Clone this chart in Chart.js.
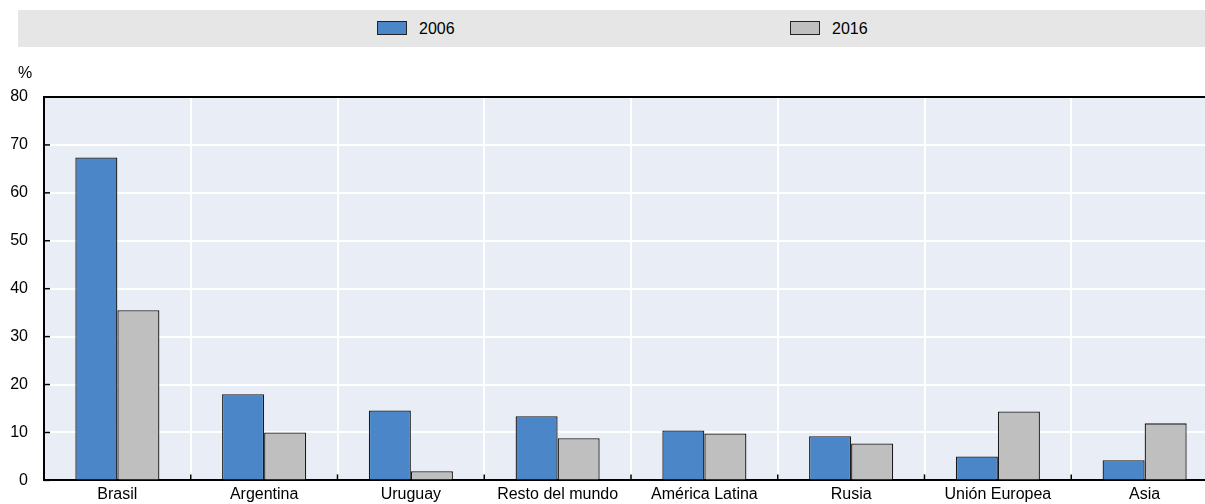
<!DOCTYPE html>
<html>
<head>
<meta charset="utf-8">
<script src="https://cdn.jsdelivr.net/npm/chart.js@4.4.1/dist/chart.umd.min.js"></script>
<style>
  body { margin: 0; background: #fff; font-family: "Liberation Sans", Arial, sans-serif; }
  #wrap { position: relative; width: 1205px; height: 504px; overflow: hidden; }
  #chart { display: block; }
  #legend { position: absolute; left: 18px; top: 10px; width: 1187px; height: 37px; background: #e6e6e6; }
  .item { position: absolute; top: 10px; font-size: 16px; color: #000; line-height: 17px; }
  .item span.box { display: inline-block; width: 28px; height: 12px; border: 1px solid #222; vertical-align: -1px; margin-right: 12px; }
  #unit { position: absolute; left: 18px; top: 64px; font-size: 16px; }
</style>
</head>
<body>
<div id="wrap">
  <div id="legend"></div>
  <div id="unit">%</div>
  <canvas id="chart" width="1218" height="506"></canvas>
</div>
<script>
const categories = ['Brasil', 'Argentina', 'Uruguay', 'Resto del mundo', 'América Latina', 'Rusia', 'Unión Europea', 'Asia'];
const values2006 = [67.4, 18.0, 14.6, 13.4, 10.4, 9.2, 5.0, 4.2];
const values2016 = [35.5, 10.0, 1.9, 8.8, 9.8, 7.7, 14.4, 11.9];
const seriesNames = ['2006', '2016'];
const yTicks = [0, 10, 20, 30, 40, 50, 60, 70, 80];

const fontFamily = '"Liberation Sans", Arial, sans-serif';

// plot frame: background, top border line and small inside tick marks
const framePlugin = {
    id: 'frame',
    beforeDraw(chart) {
        const { ctx, chartArea } = chart;
        ctx.save();
        ctx.fillStyle = '#e9edf6';
        ctx.fillRect(chartArea.left, chartArea.top, chartArea.right - chartArea.left, chartArea.bottom - chartArea.top);
        ctx.restore();
    },
    afterDraw(chart) {
        const { ctx, chartArea } = chart;
        const x = chart.scales.x;
        const y = chart.scales.y;
        ctx.save();
        ctx.strokeStyle = '#000';
        ctx.lineWidth = 2;
        ctx.beginPath();
        ctx.moveTo(chartArea.left, chartArea.top);
        ctx.lineTo(chartArea.right, chartArea.top);
        ctx.stroke();
        ctx.lineWidth = 1.5;
        const half = (x.getPixelForValue(1) - x.getPixelForValue(0)) / 2;
        for (let i = 1; i < categories.length; i++) {
            const px = x.getPixelForValue(i) - half;
            ctx.beginPath();
            ctx.moveTo(px, chartArea.bottom);
            ctx.lineTo(px, chartArea.bottom - 6);
            ctx.stroke();
        }
        yTicks.forEach(v => {
            const py = y.getPixelForValue(v);
            ctx.beginPath();
            ctx.moveTo(chartArea.left, py);
            ctx.lineTo(chartArea.left + 6, py);
            ctx.stroke();
        });
        ctx.restore();
    }
};

const colors = ['#4a86c8', '#bfbfbf'];

const chart = new Chart(document.getElementById('chart').getContext('2d'), {
    type: 'bar',
    data: {
        labels: categories,
        datasets: [
            { label: seriesNames[0], data: values2006, backgroundColor: colors[0], borderColor: '#1a1a1a', borderWidth: 1.3, borderSkipped: 'bottom' },
            { label: seriesNames[1], data: values2016, backgroundColor: colors[1], borderColor: '#1a1a1a', borderWidth: 1.3, borderSkipped: 'bottom' }
        ]
    },
    options: {
        responsive: false,
        animation: false,
        layout: { padding: { top: 97, right: 0, left: 0, bottom: 0 } },
        plugins: { legend: { display: false }, tooltip: { enabled: false } },
        datasets: { bar: { categoryPercentage: 0.573, barPercentage: 1 } },
        scales: {
            x: {
                grid: { offset: true, color: '#ffffff', lineWidth: 2, drawTicks: false },
                border: { color: '#000', width: 2 },
                ticks: { color: '#000', font: { family: fontFamily, size: 16 }, padding: 5, maxRotation: 0 },
                afterFit(scale) { scale.height = 22; }
            },
            y: {
                min: 0,
                max: 80,
                afterBuildTicks(scale) { scale.ticks = yTicks.map(v => ({ value: v })); },
                grid: { color: '#ffffff', lineWidth: 2, drawTicks: false },
                border: { color: '#000', width: 2 },
                ticks: { color: '#000', font: { family: fontFamily, size: 16 }, padding: 16 },
                afterFit(scale) { scale.width = 44; }
            }
        }
    },
    plugins: [framePlugin]
});

// legend built from the chart datasets
const legend = document.getElementById('legend');
const legendX = [359, 772];
chart.data.datasets.forEach((ds, i) => {
    const item = document.createElement('div');
    item.className = 'item';
    item.style.left = legendX[i] + 'px';
    item.innerHTML = '<span class="box" style="background:' + ds.backgroundColor + '"></span>' + ds.label;
    legend.appendChild(item);
});
</script>
</body>
</html>
